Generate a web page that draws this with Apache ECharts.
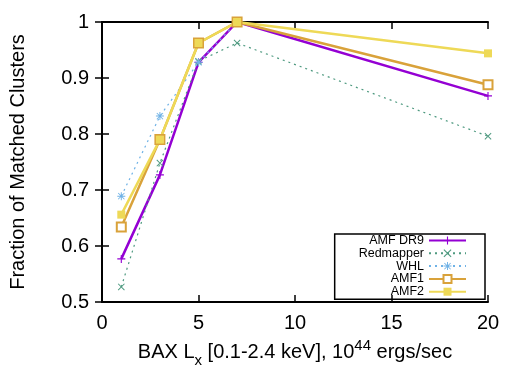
<!DOCTYPE html>
<html>
<head>
<meta charset="utf-8">
<script src="https://cdn.jsdelivr.net/npm/echarts@6/dist/echarts.min.js"></script>
</head>
<body style="margin:0;background:#fff;">
<div id="main" style="width:525px;height:391px;"></div>
<script type="text/javascript">
// x values (BAX Lx, 10^44 ergs/sec)
var lx = [1, 3, 5, 7, 20];
var lxWhl = [1, 3, 5, 7];
// fraction of matched clusters for each catalogue
var amfDr9 = [0.577, 0.727, 0.928, 1.0, 0.868];
var redmapper = [0.527, 0.748, 0.93, 0.9625, 0.796];
var whl = [0.689, 0.832, 0.928, 1.0];
var amf1 = [0.634, 0.790, 0.9625, 1.0, 0.888];
var amf2 = [0.656, 0.790, 0.9625, 1.0, 0.944];

var font = 'Liberation Sans, Arial, Helvetica, sans-serif';

function pairs(xs, ys) {
    return xs.map(function (x, i) { return [x, ys[i]]; });
}

var plusPath = 'path://M4.3,0H5.7V10H4.3Z M0,4.3H10V5.7H0Z';
var crossPath = 'path://M0,1 L1,0 L10,9 L9,10Z M9,0 L10,1 L1,10 L0,9Z';
var starPath = 'path://M4.4,0H5.6V10H4.4Z M0,4.4H10V5.6H0Z M0.7,1.5 L1.5,0.7 L9.3,8.5 L8.5,9.3Z M8.5,0.7 L9.3,1.5 L1.5,9.3 L0.7,8.5Z';

var myChart = echarts.init(document.getElementById('main'));

var option = {
    animation: false,
    backgroundColor: '#fff',
    grid: { left: 102, right: 37, top: 22, bottom: 89 },
    legend: {
        orient: 'vertical',
        right: 40,
        top: 234,
        z: 10,
        align: 'right',
        borderColor: '#000',
        borderWidth: 1.5,
        padding: [0, 18, 1, 24],
        itemWidth: 37,
        itemHeight: 10,
        itemGap: -0.2,
        textStyle: { fontFamily: font, fontSize: 12.5, color: '#000', lineHeight: 11 },
        data: ['AMF DR9', 'Redmapper', 'WHL', 'AMF1', 'AMF2']
    },
    xAxis: [{
        type: 'value', min: 0, max: 20, interval: 5,
        axisLine: { lineStyle: { color: '#000', width: 2 } },
        axisTick: { inside: true, length: 7, lineStyle: { color: '#000', width: 1.5 } },
        axisLabel: { fontFamily: font, fontSize: 20, color: '#000', margin: 11 },
        splitLine: { show: false },
        name: '{n|BAX L}{sub|x}{n| [0.1-2.4 keV], 10}{sup|44}{n| ergs/sec}',
        nameLocation: 'middle',
        nameGap: 35,
        nameTextStyle: {
            rich: {
                n: { fontFamily: font, fontSize: 20, color: '#000', lineHeight: 30, verticalAlign: 'middle' },
                sub: { fontFamily: font, fontSize: 15, color: '#000', lineHeight: 30, verticalAlign: 'bottom' },
                sup: { fontFamily: font, fontSize: 15, color: '#000', lineHeight: 30, verticalAlign: 'top' }
            }
        }
    }, {
        type: 'value', position: 'top', min: 0, max: 20, interval: 5,
        axisLine: { lineStyle: { color: '#000', width: 2 } },
        axisTick: { inside: true, length: 7, lineStyle: { color: '#000', width: 1.5 } },
        axisLabel: { show: false },
        splitLine: { show: false }
    }],
    yAxis: [{
        type: 'value', min: 0.5, max: 1, interval: 0.1,
        axisLine: { lineStyle: { color: '#000', width: 2 } },
        axisTick: { inside: true, length: 7, lineStyle: { color: '#000', width: 1.5 } },
        axisLabel: {
            fontFamily: font, fontSize: 20, color: '#000', margin: 13,
            formatter: function (v) { return v === 1 ? '1' : v.toFixed(1); }
        },
        splitLine: { show: false },
        name: 'Fraction of Matched Clusters',
        nameLocation: 'middle',
        nameGap: 74,
        nameTextStyle: { fontFamily: font, fontSize: 20, color: '#000' }
    }, {
        type: 'value', position: 'right', min: 0.5, max: 1, interval: 0.1,
        axisLine: { show: true, lineStyle: { color: '#000', width: 2 } },
        axisTick: { show: true, inside: true, length: 7, lineStyle: { color: '#000', width: 1.5 } },
        axisLabel: { show: false },
        splitLine: { show: false }
    }],
    series: [{
        name: 'AMF DR9', type: 'line', data: pairs(lx, amfDr9),
        color: '#9400d3',
        symbol: plusPath, symbolSize: 8,
        lineStyle: { width: 2.5 }
    }, {
        name: 'Redmapper', type: 'line', data: pairs(lx, redmapper),
        color: '#4f9a80',
        symbol: crossPath, symbolSize: 7,
        lineStyle: { width: 1.2, type: [2, 4] }
    }, {
        name: 'WHL', type: 'line', data: pairs(lxWhl, whl),
        color: '#6fb2e6',
        symbol: starPath, symbolSize: 8,
        lineStyle: { width: 1.2, type: [2, 4] }
    }, {
        name: 'AMF1', type: 'line', data: pairs(lx, amf1),
        color: '#d9a23a',
        symbol: 'emptyRect', symbolSize: 9,
        itemStyle: { borderWidth: 2 },
        lineStyle: { width: 2.5 }
    }, {
        name: 'AMF2', type: 'line', data: pairs(lx, amf2),
        color: '#eed957',
        symbol: 'rect', symbolSize: 8,
        lineStyle: { width: 2.5 }
    }]
};

myChart.setOption(option);
</script>
</body>
</html>
